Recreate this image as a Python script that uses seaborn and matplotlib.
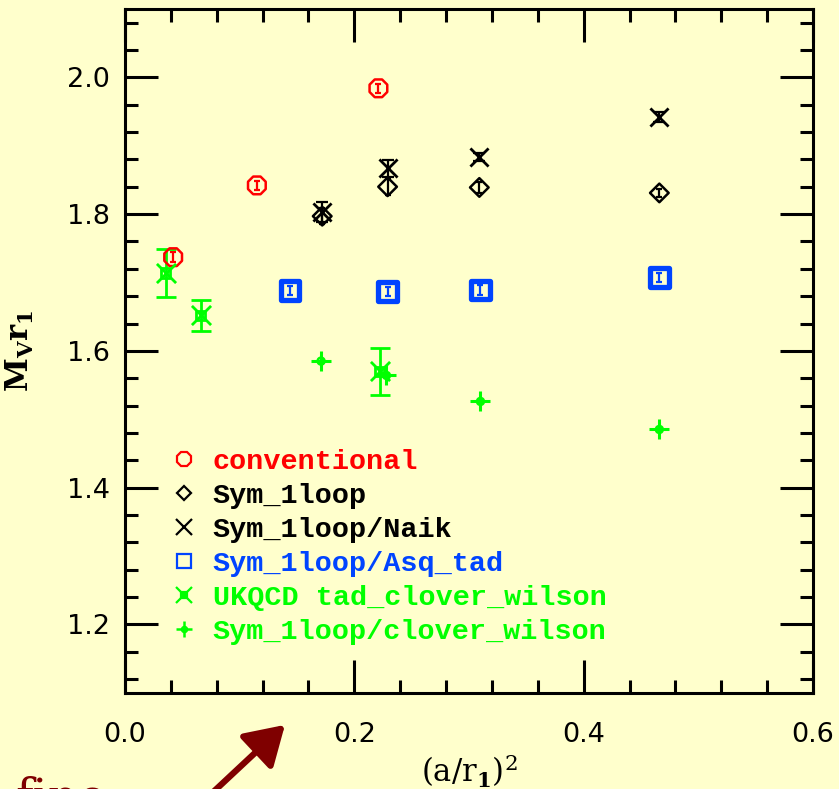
import numpy as np
import pandas as pd
import matplotlib
matplotlib.use('Agg')
import seaborn as sns
import matplotlib.pyplot as plt
from matplotlib.lines import Line2D
from matplotlib.ticker import MultipleLocator

# conventional (red circles)
conv_x = [0.042, 0.115, 0.221]
conv_y = [1.737, 1.842, 1.984]
conv_err = [0.007, 0.007, 0.007]

# Sym_1loop (black diamonds)
sym_x = [0.172, 0.229, 0.309, 0.466]
sym_y = [1.797, 1.840, 1.839, 1.831]
sym_err = [0.012, 0.012, 0.008, 0.006]

# Sym_1loop/Naik (black crosses)
naik_x = [0.172, 0.229, 0.309, 0.466]
naik_y = [1.803, 1.867, 1.883, 1.942]
naik_err = [0.014, 0.012, 0.006, 0.008]

# Sym_1loop/Asq_tad (blue squares)
asq_x = [0.144, 0.229, 0.310, 0.466]
asq_y = [1.688, 1.687, 1.689, 1.707]
asq_err = [0.007, 0.007, 0.007, 0.007]

# UKQCD tad_clover_wilson (green, with error bars)
ukqcd_x = [0.0355, 0.066, 0.222]
ukqcd_y = [1.714, 1.652, 1.570]
ukqcd_err = [0.035, 0.023, 0.034]

# Sym_1loop/clover_wilson (green stars)
clov_x = [0.171, 0.228, 0.310, 0.466]
clov_y = [1.585, 1.564, 1.526, 1.485]

labels = ['conventional', 'Sym_1loop', 'Sym_1loop/Naik', 'Sym_1loop/Asq_tad',
          'UKQCD tad_clover_wilson', 'Sym_1loop/clover_wilson']

RED = '#FF0000'
BLACK = '#000000'
BLUE = '#0044FF'
GREEN = '#00FF00'
BG = '#FFFFCC'

sns.set_theme(style='ticks')
plt.rcParams['font.family'] = ['DejaVu Sans']
plt.rcParams['mathtext.fontset'] = 'dejavuserif'
plt.rcParams['text.color'] = BLACK
plt.rcParams['axes.labelcolor'] = BLACK

fig = plt.figure(figsize=(8.39, 7.89), dpi=100, facecolor=BG)
ax = fig.add_axes([125 / 839, 1 - 692.7 / 789, 688 / 839, 683.7 / 789])
ax.set_facecolor(BG)


def errs(x, y, e, color, cap, lw):
    ax.errorbar(x, y, yerr=e, fmt='none', ecolor=color, elinewidth=lw,
                capsize=cap, capthick=lw, zorder=3)


errs(conv_x, conv_y, conv_err, RED, 2.5, 1.6)
errs(sym_x, sym_y, sym_err, BLACK, 2.5, 1.6)
errs(naik_x, naik_y, naik_err, BLACK, 4, 1.6)
errs(asq_x, asq_y, asq_err, BLUE, 2.5, 1.6)
errs(ukqcd_x, ukqcd_y, ukqcd_err, GREEN, 7, 2.0)

df_conv = pd.DataFrame({'x': conv_x, 'y': conv_y})
df_sym = pd.DataFrame({'x': sym_x, 'y': sym_y})
df_naik = pd.DataFrame({'x': naik_x, 'y': naik_y})
df_asq = pd.DataFrame({'x': asq_x, 'y': asq_y})
df_ukqcd = pd.DataFrame({'x': ukqcd_x, 'y': ukqcd_y})
df_clov = pd.DataFrame({'x': clov_x, 'y': clov_y})

sns.scatterplot(data=df_conv, x='x', y='y', ax=ax, marker='8', s=190,
                facecolor='none', edgecolor=RED, linewidth=1.8, zorder=4)
sns.scatterplot(data=df_sym, x='x', y='y', ax=ax, marker='D', s=90,
                facecolor='none', edgecolor=BLACK, linewidth=1.8, zorder=4)
sns.scatterplot(data=df_naik, x='x', y='y', ax=ax, marker='x', s=170,
                color=BLACK, linewidth=2.0, zorder=4)
sns.scatterplot(data=df_asq, x='x', y='y', ax=ax, marker='s', s=180,
                facecolor='none', edgecolor=BLUE, linewidth=3.8, zorder=4)
sns.scatterplot(data=df_ukqcd, x='x', y='y', ax=ax, marker='x', s=190,
                color=GREEN, linewidth=2.0, zorder=4)
sns.scatterplot(data=df_ukqcd, x='x', y='y', ax=ax, marker='s', s=45,
                facecolor='none', edgecolor=GREEN, linewidth=2.0, zorder=4)
sns.scatterplot(data=df_clov, x='x', y='y', ax=ax, marker='+', s=190,
                color=GREEN, linewidth=2.2, zorder=4)
sns.scatterplot(data=df_clov, x='x', y='y', ax=ax, marker='o', s=25,
                facecolor='none', edgecolor=GREEN, linewidth=1.8, zorder=4)

ax.set_xlim(0.0, 0.6)
ax.set_ylim(1.1, 2.1)
ax.xaxis.set_major_locator(MultipleLocator(0.2))
ax.xaxis.set_minor_locator(MultipleLocator(0.04))
ax.yaxis.set_major_locator(MultipleLocator(0.2))
ax.yaxis.set_minor_locator(MultipleLocator(0.04))
ax.xaxis.set_major_formatter(matplotlib.ticker.FormatStrFormatter('%.1f'))
ax.yaxis.set_major_formatter(matplotlib.ticker.FormatStrFormatter('%.1f'))

for s in ax.spines.values():
    s.set_visible(True)
    s.set_linewidth(2.2)
    s.set_color(BLACK)
ax.tick_params(which='both', direction='in', top=True, right=True,
               width=2.2, color=BLACK, labelcolor=BLACK)
ax.tick_params(which='major', length=24)
ax.tick_params(which='minor', length=9.5)
ax.tick_params(axis='x', which='major', pad=21, labelsize=19.5)
ax.tick_params(axis='y', which='major', pad=11, labelsize=19.5)

ax.set_xlabel(r'$(\mathrm{a/r}_{\mathbf{1}})^{\mathrm{2}}$', fontsize=22, color=BLACK)
ax.xaxis.set_label_coords(0.5, -0.088)
ax.set_ylabel(r'$\mathbf{M_V r_1}$', fontsize=22, color=BLACK)
ax.yaxis.set_label_coords(-0.13, 0.5)

handles = [
    Line2D([], [], ls='none', marker='8', ms=11, mfc='none', mec=RED, mew=1.6),
    Line2D([], [], ls='none', marker='D', ms=7, mfc='none', mec=BLACK, mew=1.6),
    Line2D([], [], ls='none', marker='x', ms=11, color=BLACK, mew=1.6),
    Line2D([], [], ls='none', marker='s', ms=10, mfc='none', mec=BLUE, mew=1.6),
    (Line2D([], [], ls='none', marker='x', ms=11, color=GREEN, mew=1.6),
     Line2D([], [], ls='none', marker='s', ms=5, mfc='none', mec=GREEN, mew=1.6)),
    (Line2D([], [], ls='none', marker='+', ms=12, color=GREEN, mew=1.8),
     Line2D([], [], ls='none', marker='o', ms=4, mfc='none', mec=GREEN, mew=1.4)),
]
leg = ax.legend(handles, labels, loc='upper left',
                bbox_to_anchor=((175 - 125) / 688, (692.7 - 449) / 683.7),
                frameon=False, handlelength=0.6, handletextpad=0.72,
                borderpad=0, borderaxespad=0, labelspacing=0.28,
                prop={'family': 'Liberation Mono', 'weight': 'bold', 'size': 20.5},
                labelcolor=[RED, BLACK, BLACK, BLUE, GREEN, GREEN])

# slide annotation leftovers at the bottom-left
fig.text(15 / 839, 1 - 776 / 789, 'fine', color='#7F0000', fontsize=34,
         family='DejaVu Serif', va='top', ha='left')
ax.annotate('', xy=(287, 66), xycoords='figure pixels',
            xytext=(210, -6), textcoords='figure pixels',
            arrowprops=dict(arrowstyle='-|>,head_length=1.3,head_width=0.8',
                            color='#7F0000', lw=4.5, mutation_scale=18),
            annotation_clip=False)

fig.savefig('out.png', dpi=100, facecolor=BG)
